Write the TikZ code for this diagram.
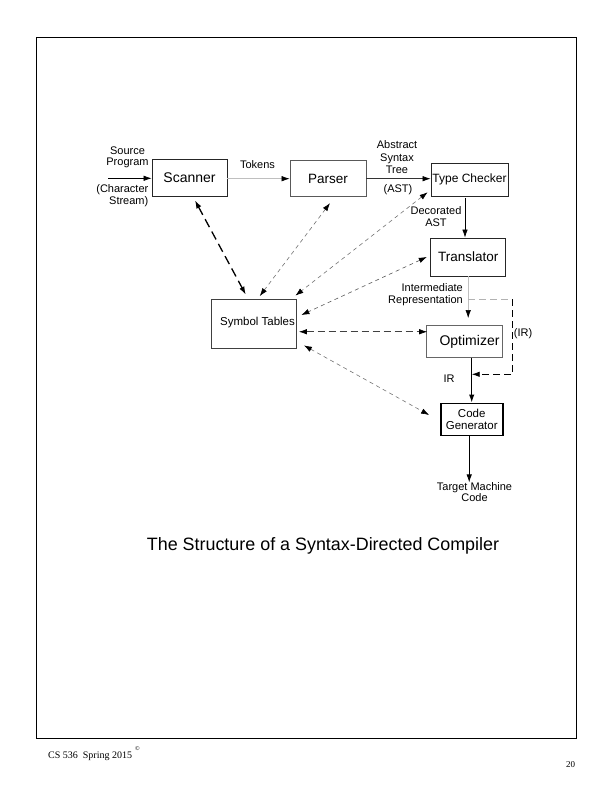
\documentclass[tikz,border=0pt]{standalone}
\usepackage{fontspec}
\setmainfont{Liberation Sans}
\newfontfamily\footfont{Liberation Serif}
\usetikzlibrary{arrows.meta}
\begin{document}
\begin{tikzpicture}[x=1pt,y=-1pt,
  >={Latex[length=8pt,width=5.5pt,color=black]},
  box/.style={draw=black!85,line width=0.8pt,inner sep=0pt},
  lbl/.style={inner sep=0pt,align=center,font=\fontsize{11}{11.8}\selectfont},
  flow/.style={->,line width=0.7pt},
  lightflow/.style={->,line width=0.6pt,draw=black!25},
  sym/.style={<->,line width=0.6pt,draw=black!55,dash pattern=on 4pt off 3.5pt},
]
\useasboundingbox (0,0) rectangle (612,792);
% page frame
\draw[line width=1pt] (36.5,37.5) rectangle (576.5,738.5);

% boxes
\node[box,minimum width=75pt,minimum height=37pt,font=\fontsize{14}{16}\selectfont] (scan) at (189.5,177.5) {Scanner};
\node[box,draw=black!65,minimum width=76pt,minimum height=36pt,font=\fontsize{13.5}{16}\selectfont] (parse) at (328,178.7) {Parser};
\node[box,minimum width=77pt,minimum height=33pt,font=\fontsize{12}{14}\selectfont] (tc) at (469.5,179.4) {Type Checker};
\node[box,minimum width=75pt,minimum height=38pt,font=\fontsize{13.5}{15}\selectfont] (trans) at (468.2,257) {Translator};
\node[box,draw=black!75,minimum width=85.5pt,minimum height=49.5pt] (st) at (253.75,323.75) {};
\node[lbl,font=\fontsize{11.5}{13}\selectfont] (stl) at (257.5,322.7) {Symbol Tables};
\node[box,draw=black!60,minimum width=76pt,minimum height=32pt] (opt) at (464.6,341.5) {};
\node[lbl,font=\fontsize{14}{15}\selectfont] (optl) at (469.5,341.7) {Optimizer};
\node[box,draw=black,line width=1.8pt,minimum width=62pt,minimum height=32pt,align=center,font=\fontsize{11.5}{11.6}\selectfont] (cg) at (471.7,419.4) {Code\\[-0.5pt]Generator};

% text labels
\node[lbl] (src) at (127.5,157.2) {Source\\Program};
\node[lbl,align=right,anchor=east] (chr) at (148.5,195.4) {(Character\\Stream)};
\node[lbl] (tok) at (257.5,165) {Tokens};
\node[lbl,font=\fontsize{11}{12.5}\selectfont] (ast) at (397,157.3) {Abstract\\Syntax\\Tree};
\node[lbl] (astp) at (398,190) {(AST)};
\node[lbl] (dec) at (436,216.3) {Decorated\\AST};
\node[lbl,align=right,anchor=east] (irl) at (463,294.5) {Intermediate\\Representation};
\node[lbl] (irp) at (523,334) {(IR)};
\node[lbl] (ir) at (449,379) {IR};
\node[lbl,font=\fontsize{11}{10.6}\selectfont] (tgt) at (474.5,492) {Target Machine\\Code};
\node[inner sep=0pt,font=\fontsize{17.9}{20}\selectfont] (title) at (323,546) {The Structure of a Syntax-Directed Compiler};

% footer
\node[inner sep=0pt,anchor=west,font=\footfont\fontsize{10}{11}\selectfont] (foot) at (48,756) {CS 536\ \ Spring 2015};
\node[inner sep=0pt,font=\footfont\fontsize{6}{7}\selectfont] (copy) at (137.5,748.5) {\textcopyright};
\node[inner sep=0pt,font=\footfont\fontsize{9}{10}\selectfont] (page) at (570.5,765) {20};

% main flow
\coordinate (in) at (108,178.3);
\draw[flow] (in) -- (in -| scan.west);
\draw[lightflow] (parse.west -| scan.east) -- (parse.west);
\draw[flow,draw=black!80] (parse.east) -- (parse.east -| tc.west);
\draw[flow] ([xshift=-4.5pt,yshift=-2pt]tc.south) -- ([xshift=-4.5pt]tc.south |- trans.north);
\draw[lightflow,shorten >=7pt] (trans.south) -- (trans.south |- opt.north);
\coordinate (lp1) at (512.7,299);
\coordinate (lp2) at (512.7,374.3);
\draw[line width=0.6pt,draw=black!30,dash pattern=on 7pt off 4pt] (trans.south |- lp1) -- (lp1);
\draw[->,line width=0.8pt,dash pattern=on 7pt off 4pt] (lp1) -- (lp2) -- (lp2 -| cg.north);
\draw[flow,line width=1.1pt] (cg.north |- opt.south) -- (cg.north);
\draw[flow,line width=0.9pt] ([xshift=-2.5pt]cg.south) -- ([xshift=-2.5pt]cg.south |- tgt.north);

% symbol table connections
\draw[<->,line width=1.3pt,dash pattern=on 9pt off 5pt] ([xshift=5.5pt,yshift=-4pt]scan.south) -- ([xshift=-8pt,yshift=4pt]st.north);
\draw[sym] ([xshift=2pt,yshift=-6pt]parse.south) -- ([xshift=6pt,yshift=2.5pt]st.north);
\draw[sym] ([xshift=-3pt,yshift=4pt]tc.south west) -- ([xshift=-1.5pt,yshift=3pt]st.north east);
\draw[sym,draw=black!65] ([xshift=-3.5pt]trans.west) -- ([xshift=4.5pt,yshift=8.75pt]st.east);
\coordinate (o1) at ([xshift=2pt,yshift=-8pt]st.east);
\draw[<->,line width=0.7pt,draw=black!75,dash pattern=on 7pt off 4pt] (o1) -- ([xshift=1pt]o1 -| opt.west);
\draw[sym] ([xshift=7pt,yshift=3.5pt]st.south east) -- ([xshift=-10.7pt,yshift=4.4pt]cg.west);
\end{tikzpicture}
\end{document}
